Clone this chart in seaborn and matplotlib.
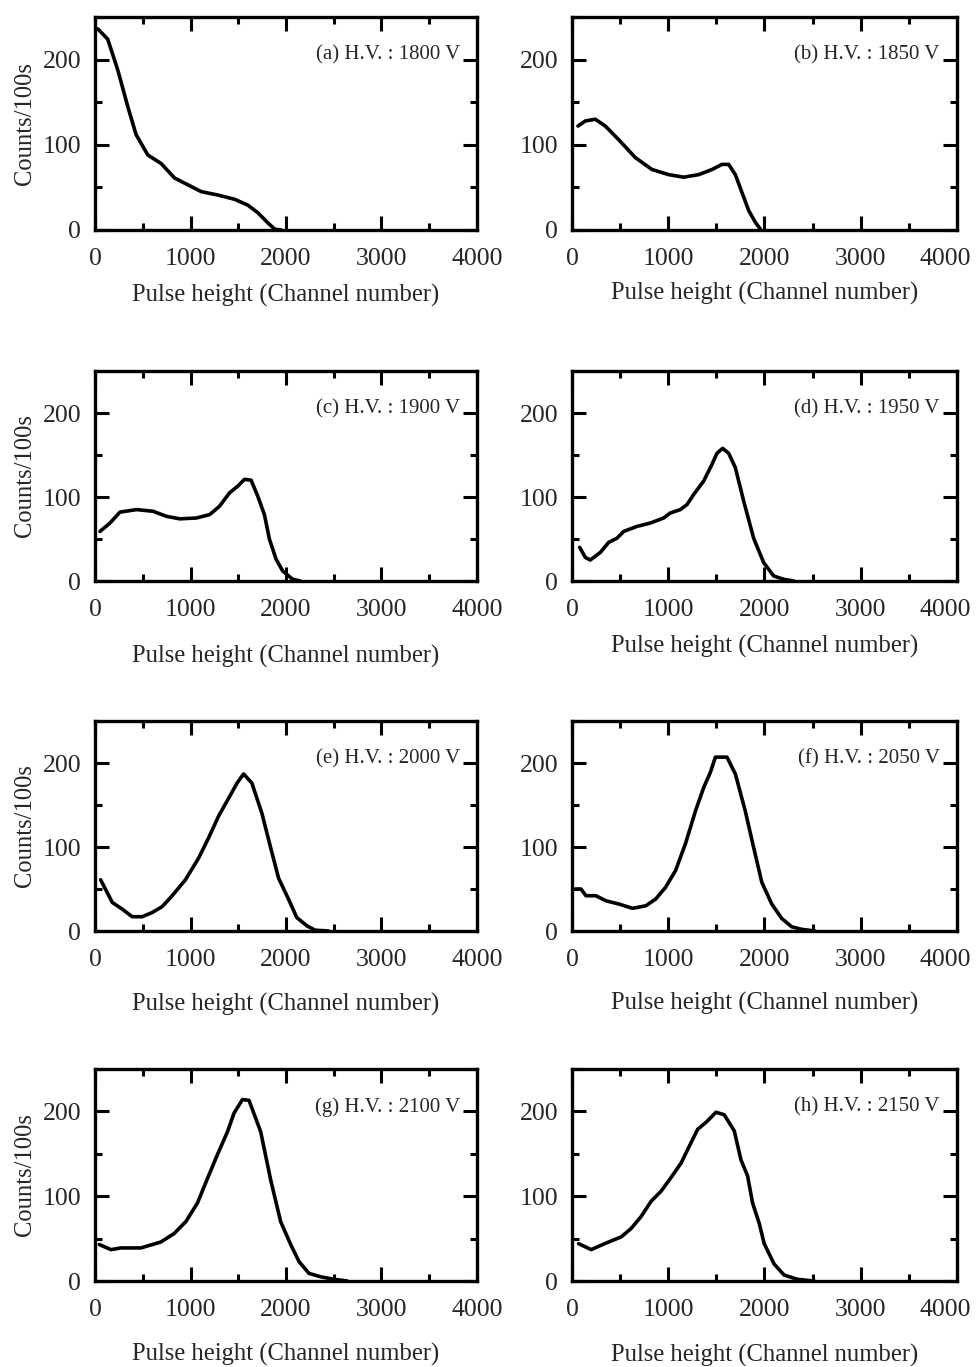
import matplotlib
matplotlib.use("Agg")
import matplotlib.pyplot as plt
import matplotlib.transforms as mtransforms
import seaborn as sns
import numpy as np
from matplotlib.ticker import MultipleLocator

sns.set_theme(style="ticks")
plt.rcParams['font.family'] = ['Liberation Serif', 'DejaVu Serif']
plt.rcParams['mathtext.fontset'] = 'stix'

# ---- data (channel number, counts/100s) ----
labels = ["(a) H.V. : 1800 V", "(b) H.V. : 1850 V", "(c) H.V. : 1900 V", "(d) H.V. : 1950 V",
          "(e) H.V. : 2000 V", "(f) H.V. : 2050 V", "(g) H.V. : 2100 V", "(h) H.V. : 2150 V"]

ch_a = [30, 133, 238, 343, 430, 553, 693, 833, 973, 1113, 1288, 1463, 1603, 1708, 1813, 1883, 1950]
cnt_a = [236, 224, 188, 145, 112, 88, 78, 61, 53, 45, 41, 36, 29, 20, 8, 1, 0]

ch_b = [62, 139, 242, 346, 485, 658, 831, 1004, 1160, 1316, 1455, 1558, 1628, 1697, 1766, 1835, 1905, 1957]
cnt_b = [122, 128, 130, 122, 106, 85, 71, 65, 62, 65, 71, 77, 77, 65, 44, 23, 9, 1]

ch_c = [52, 157, 261, 435, 609, 748, 887, 1061, 1200, 1304, 1409, 1496, 1565, 1635, 1704, 1774, 1826, 1896, 1965, 2070, 2150]
cnt_c = [59, 69, 82, 85, 83, 77, 74, 75, 79, 89, 105, 113, 121, 120, 101, 79, 50, 26, 12, 2, 0]

ch_d = [80, 139, 190, 294, 381, 468, 537, 675, 814, 952, 1022, 1126, 1195, 1264, 1368, 1455, 1506, 1565,
        1628, 1697, 1784, 1887, 1991, 2095, 2199, 2303]
cnt_d = [40, 28, 25, 34, 46, 51, 59, 65, 69, 75, 81, 85, 91, 103, 119, 139, 152, 158,
         152, 135, 95, 51, 22, 6, 2, 0]

ch_e = [59, 181, 285, 390, 494, 599, 703, 808, 947, 1086, 1190, 1295, 1399, 1487, 1556, 1643, 1748,
        1835, 1922, 2026, 2113, 2221, 2304, 2444]
cnt_e = [61, 34, 26, 17, 17, 22, 29, 42, 61, 87, 111, 137, 158, 176, 187, 176, 140,
         101, 63, 38, 16, 6, 1, 0]

ch_f = [34, 93, 145, 248, 352, 490, 628, 766, 869, 972, 1076, 1179, 1283, 1369, 1438, 1490, 1610, 1697,
        1800, 1886, 1972, 2076, 2179, 2283, 2386, 2524]
cnt_f = [50, 50, 42, 42, 36, 32, 27, 30, 38, 52, 72, 104, 143, 171, 189, 207, 207, 187,
         143, 100, 58, 32, 15, 5, 2, 0]

ch_g = [45, 167, 272, 481, 690, 829, 951, 1073, 1178, 1282, 1387, 1456, 1544, 1613, 1735, 1840, 1944,
        2049, 2136, 2240, 2362, 2502, 2641]
cnt_g = [43, 37, 39, 39, 46, 56, 70, 92, 121, 149, 176, 198, 214, 213, 176, 119, 70,
         43, 23, 9, 5, 2, 0]

ch_h = [69, 200, 338, 511, 615, 718, 822, 926, 1029, 1133, 1219, 1306, 1392, 1496, 1582, 1686, 1755,
        1824, 1876, 1945, 1997, 2100, 2204, 2342, 2515]
cnt_h = [44, 37, 44, 52, 62, 76, 94, 106, 122, 139, 159, 179, 187, 199, 196, 177, 143,
         124, 92, 68, 44, 20, 7, 2, 0]

x_ticks = [0, 1000, 2000, 3000, 4000]
y_ticks = [0, 100, 200]

channels = [ch_a, ch_b, ch_c, ch_d, ch_e, ch_f, ch_g, ch_h]
counts = [cnt_a, cnt_b, cnt_c, cnt_d, cnt_e, cnt_f, cnt_g, cnt_h]

W, H = 979, 1367
fig = plt.figure(figsize=(W / 100, H / 100), dpi=100)

# axes pixel boxes
col_x = [(95, 477), (572, 957)]
row_y = [(17, 230), (371, 581), (721, 931), (1069, 1281)]
xlabel_pads = [10, 8.6, 17, 10, 16, 15, 16, 16.5]

for i in range(8):
    r, c = divmod(i, 2)
    x0, x1 = col_x[c]
    y0, y1 = row_y[r]
    ax = fig.add_axes([x0 / W, 1 - y1 / H, (x1 - x0) / W, (y1 - y0) / H])
    sns.lineplot(x=channels[i], y=counts[i], ax=ax, color='black', linewidth=2.6)
    ax.set_xlim(0, 4000)
    ax.set_ylim(0, 250)
    ax.set_xticks(x_ticks)
    ax.set_yticks(y_ticks)
    ax.xaxis.set_minor_locator(MultipleLocator(500))
    ax.yaxis.set_minor_locator(MultipleLocator(50))
    ax.tick_params(which='both', direction='in', top=True, right=True, width=2.2, color='black')
    ax.tick_params(which='major', length=10, labelsize=18.5)
    ax.tick_params(axis='x', which='major', pad=13)
    ax.tick_params(axis='y', which='major', pad=10)
    ax.tick_params(which='minor', length=5)
    for s in ax.spines.values():
        s.set_linewidth(2.4)
        s.set_color('black')
    ax.set_xlabel("Pulse height (Channel number)", fontsize=17.7, labelpad=xlabel_pads[i])
    if c == 0:
        ax.set_ylabel("Counts/100s", fontsize=17.7, labelpad=5)
    else:
        ax.set_ylabel("")
        # shift the last x tick label slightly left so it stays inside the figure
        last = ax.get_xticklabels()[-1]
        offset = mtransforms.ScaledTranslation(-12 / 100, 0, fig.dpi_scale_trans)
        last.set_transform(last.get_transform() + offset)
    ax.text(3820, 205, labels[i], ha='right', va='center', fontsize=15)

fig.savefig("out.png", dpi=100)
